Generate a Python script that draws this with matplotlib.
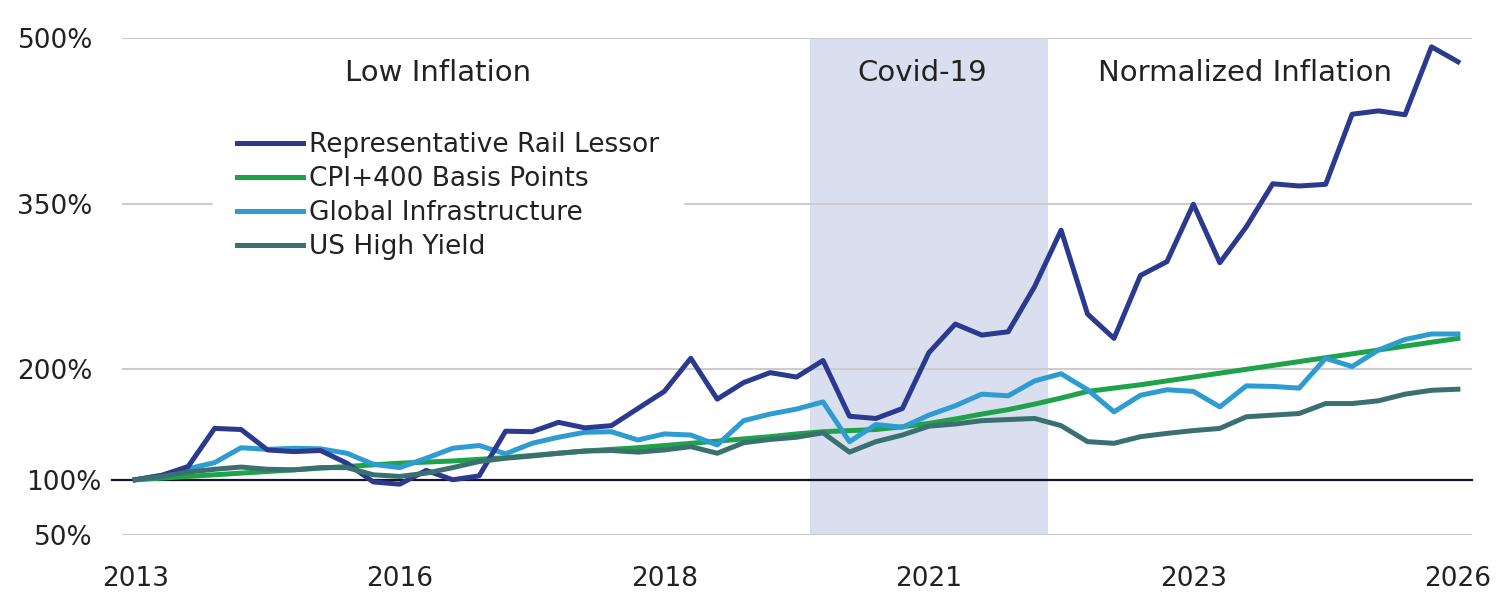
import numpy as np
import matplotlib.pyplot as plt

# --- Data (quarterly growth of 100%, 2013 -> 2026) ---
rail_lessor = [100, 104, 112, 146.5, 145.5, 127, 125.5, 126.5, 115, 98,
               96, 108.5, 100, 103.5, 144, 143.5, 152, 147, 149, 164.5,
               180, 210, 173, 188, 197, 193, 208, 157.5, 155.5, 164.5,
               215, 241, 231, 234, 275, 326, 250, 228, 285, 297.5,
               349.5, 296.5, 329, 368, 366, 367.5, 431, 434, 430.5, 492,
               478.5]
cpi_400 = [100, 101.5, 103, 104.5, 106, 107.5, 109, 110.5, 112, 113.5,
           115, 116, 117, 118.5, 120, 122, 124, 126, 127.5, 129,
           131, 133, 135, 137, 139, 141.5, 143.5, 144.5, 145.5, 148,
           151, 155, 159.5, 163.5, 168.5, 174, 180, 183, 186, 189.5,
           193, 196.5, 200, 203.5, 207, 210.5, 214, 217.5, 221, 224.5,
           228]
global_infra = [100, 104, 110, 115.5, 129, 127.5, 128.5, 128, 124, 114,
                111, 119.5, 128.5, 131, 123.5, 133, 138.5, 143, 143.5, 136,
                141.5, 140.5, 131.5, 153.5, 159.5, 164, 170.5, 134.5, 150, 147.5,
                158.5, 167, 177.5, 176, 189.5, 196, 181.5, 161.5, 176.5, 181.5,
                180, 166, 185, 184.5, 183, 210, 202.5, 217.5, 227, 232,
                232]
us_high_yield = [100, 103, 107, 109.5, 111.5, 109.5, 109, 111, 111, 104.5,
                 103, 106, 111, 116.5, 119.5, 121.5, 124, 126, 126.5, 125,
                 127, 130, 124, 133.5, 136.5, 138.5, 142.5, 125, 134.5, 140.5,
                 148.5, 150.5, 153.5, 154.5, 155.5, 149, 134.5, 133, 139, 142,
                 144.5, 146.5, 157, 158.5, 160, 169, 169, 171.5, 177.5, 181,
                 182]

x_tick_labels = ['2013', '2016', '2018', '2021', '2023', '2026']
y_ticks = [50, 100, 200, 350, 500]
regimes = ['Low Inflation', 'Covid-19', 'Normalized Inflation']

x = np.arange(len(rail_lessor))

# --- Plotting ---
plt.rcParams['font.family'] = 'DejaVu Sans'
txt = '#222222'

fig = plt.figure(figsize=(15.12, 6.06), dpi=100)
ax = fig.add_axes([0.0807, 0.1172, 0.8928, 0.8201])

# Covid period shading
ax.axvspan(25.5, 34.5, color='#D9DFEF', zorder=0, lw=0)

# gridlines
for v in [50, 200, 350, 500]:
    ax.axhline(v, color='#CCCCCC', lw=1.5, zorder=1)
ax.axhline(100, xmin=-0.0074, xmax=1, color='#15152A', lw=1.6, zorder=2, clip_on=False)

lw = 3.6
ax.plot(x, cpi_400, color='#1FA34A', lw=lw, label='CPI+400 Basis Points', zorder=3)
ax.plot(x, global_infra, color='#2E9CD0', lw=lw, label='Global Infrastructure', zorder=4)
ax.plot(x, rail_lessor, color='#2B3A8F', lw=lw, label='Representative Rail Lessor', zorder=5)
ax.plot(x, us_high_yield, color='#3A7170', lw=lw, label='US High Yield', zorder=6)

ax.set_xlim(-0.5, 50.53)
ax.set_ylim(50, 500)

ax.set_xticks(np.linspace(0, len(x) - 1, len(x_tick_labels)))
ax.set_xticklabels(x_tick_labels)
ax.set_yticks(y_ticks)
ax.set_yticklabels([f'{v}%' for v in y_ticks])
ax.tick_params(axis='both', length=0, labelsize=19, labelcolor=txt)
ax.tick_params(axis='x', pad=22)
ax.tick_params(axis='y', pad=21)
ax.yaxis.get_major_ticks()[1].set_pad(15)

for s in ax.spines.values():
    s.set_visible(False)

# regime labels
ax.text(11.43, 468, regimes[0], ha='center', va='center', fontsize=21, color=txt)
ax.text(29.76, 468, regimes[1], ha='center', va='center', fontsize=21, color=txt)
ax.text(41.95, 468, regimes[2], ha='center', va='center', fontsize=21, color=txt)

# legend in original order
h, l = ax.get_legend_handles_labels()
order = [2, 0, 1, 3]
leg = ax.legend([h[i] for i in order], [l[i] for i in order],
                loc='upper left', bbox_to_anchor=(0.0674, 0.858),
                fontsize=19, frameon=True, facecolor='white', edgecolor='white',
                framealpha=1, fancybox=False, handlelength=2.5, handletextpad=0.25,
                labelspacing=0.3, borderpad=0.9, borderaxespad=0)
for t in leg.get_texts():
    t.set_color(txt)
leg.set_zorder(7)

fig.savefig('out.png', dpi=100)
